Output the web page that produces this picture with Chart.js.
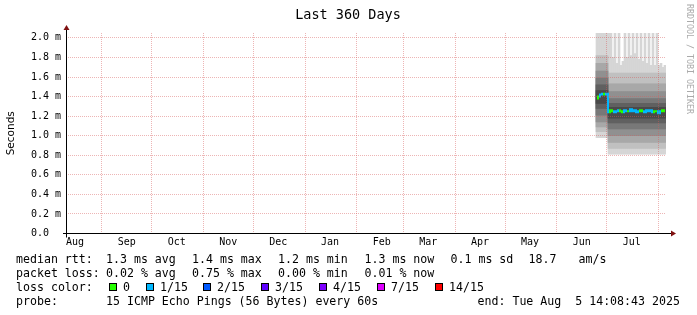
<!DOCTYPE html>
<html>
<head>
<meta charset="utf-8">
<title>Last 360 Days</title>
<script src="https://cdn.jsdelivr.net/npm/chart.js"></script>
<style>
  body { margin: 0; background: #fff; }
  #wrap { width: 697px; height: 315px; }
</style>
</head>
<body>
<div id="wrap"><canvas id="smoke" width="697" height="315"></canvas></div>
<script>
// x axis is "days since graph start" (end time minus 360 days)
const endTime = Date.UTC(2025, 7, 5, 14, 8, 43);
const startTime = endTime - 360 * 86400000;

const monthNames = ['Aug', 'Sep', 'Oct', 'Nov', 'Dec', 'Jan', 'Feb', 'Mar', 'Apr', 'May', 'Jun', 'Jul'];
const monthLabelDates = ['2024-08-16', '2024-09-16', '2024-10-16', '2024-11-16', '2024-12-16', '2025-01-16',
                         '2025-02-16', '2025-03-16', '2025-04-16', '2025-05-16', '2025-06-16', '2025-07-16'];
const monthLineDates = ['2024-09-01', '2024-10-01', '2024-11-01', '2024-12-01', '2025-01-01', '2025-02-01',
                        '2025-03-01', '2025-04-01', '2025-05-01', '2025-06-01', '2025-07-01', '2025-08-01'];

const yTicks = [0, 0.1, 0.2, 0.3, 0.4, 0.5, 0.6, 0.7, 0.8, 0.9, 1.0,
                1.1, 1.2, 1.3, 1.4, 1.5, 1.6, 1.7, 1.8, 1.9, 2.0];

// smoke buckets, 1.2 days each, starting day 318 (late June)
const smokeStartDay = 318;
const bucketDays = 1.2;
const firstP2Bucket = 6;   // level change just after Jul 1

// median rtt in ms per bucket
const median = [1.38, 1.40, 1.42, 1.43, 1.42, 1.43,
  1.24, 1.26, 1.25, 1.24, 1.25, 1.26, 1.25, 1.24, 1.26, 1.25, 1.25, 1.27, 1.25, 1.26, 1.24,
  1.25, 1.26, 1.25, 1.24, 1.26, 1.25, 1.26, 1.24, 1.25, 1.25, 1.23, 1.25, 1.26, 1.25];
// lost pings (of 15) per bucket
const loss = [0, 0, 1, 1, 0, 1,
  1, 0, 0, 1, 1, 1, 0, 0, 1, 1, 0, 1, 1, 1, 1, 1, 0, 0, 1, 1, 1, 1, 1, 0, 0, 1, 1, 0, 0];
// slowest ping per bucket (top of the lightest smoke)
const maxPing = [2.10, 2.10, 2.10, 2.10, 2.10, 2.10,
  2.10, 2.10, 1.80, 2.10, 1.74, 2.10, 1.72, 1.76, 2.10, 1.80, 2.10, 1.82, 2.10, 1.84, 2.10,
  1.78, 2.10, 1.76, 2.10, 1.74, 2.10, 1.72, 2.10, 1.72, 2.05, 1.72, 1.74, 1.70, 1.72];

// smoke band limits, outer band first (ms)
const bandLowP1  = [0.98, 1.04, 1.09, 1.14, 1.21, 1.28, 1.33];
const bandHighP1 = [null, 1.82, 1.74, 1.66, 1.59, 1.52, 1.46];
const bandLowP2  = [0.81, 0.87, 0.93, 1.00, 1.07, 1.13, 1.18];
const bandHighP2 = [null, 1.64, 1.53, 1.45, 1.38, 1.33, 1.29];

const lossSteps  = [0, 1, 2, 3, 4, 7, 14];
const lossLabels = ['0', '1/15', '2/15', '3/15', '4/15', '7/15', '14/15'];
const lossColors = ['#26ff00', '#00b8ff', '#0059ff', '#5e00ff', '#7e00ff', '#dd00ff', '#ff0000'];

const rttStats  = ['1.3 ms avg', '1.4 ms max', '1.2 ms min', '1.3 ms now', '0.1 ms sd'];
const lossStats = ['0.02 % avg', '0.75 % max', '0.00 % min', '0.01 % now'];
const amStats   = ['18.7', 'am/s'];
const probeText = '15 ICMP Echo Pings (56 Bytes) every 60s';
const endText   = 'end: Tue Aug  5 14:08:43 2025';

const smokeGrays = ['#d6d6d6', '#c0c0c0', '#a8a8a8', '#909090', '#787878', '#606060', '#4a4a4a'];
const MAJOR_GRID = 'rgba(215,90,90,0.45)';
const MINOR_GRID = 'rgba(150,150,150,0.45)';
const MONO = '"DejaVu Sans Mono", monospace';

function dayOf(s) { return (Date.parse(s) - startTime) / 86400000; }
function bucketMid(i) { return smokeStartDay + bucketDays * (i + 0.5); }
function colorForLoss(n) {
    var c = lossColors[0];
    lossSteps.forEach((s, i) => { if (n >= s) c = lossColors[i]; });
    return c;
}

const monthLabelDays = monthLabelDates.map(dayOf);
const monthLineDays = monthLineDates.map(dayOf);
const xTicks = monthLabelDays.concat(monthLineDays).sort((a, b) => a - b);

function bandData(b) {
    return median.map((m, i) => {
        const p2 = i >= firstP2Bucket;
        const lo = p2 ? bandLowP2[b] : bandLowP1[b];
        const hi = b === 0 ? maxPing[i] : (p2 ? bandHighP2[b] : bandHighP1[b]);
        return { x: bucketMid(i), y: [lo, hi] };
    });
}

var datasets = [{
    type: 'line',
    data: median.map((v, i) => ({ x: bucketMid(i), y: v })),
    borderColor: lossColors[0],
    borderWidth: 2,
    pointRadius: 0,
    stepped: 'middle',
    segment: { borderColor: c => colorForLoss(loss[c.p1DataIndex]) },
    order: 0,
    clip: 0
}];
for (let b = 0; b < smokeGrays.length; b++) {
    datasets.push({
        type: 'bar',
        data: bandData(b),
        backgroundColor: smokeGrays[b],
        borderWidth: 0,
        barPercentage: 1,
        categoryPercentage: 1,
        grouped: false,
        order: smokeGrays.length - b,
        clip: 0
    });
}

function isMajorY(v) { return Math.round(v * 10) % 2 === 0; }

// title, legend, watermark and the axis arrows
const decorations = {
    id: 'decorations',
    afterDraw(chart) {
        const ctx = chart.ctx;
        const a = chart.chartArea;
        ctx.save();
        ctx.fillStyle = '#000';
        ctx.textBaseline = 'alphabetic';

        ctx.font = '13.5px ' + MONO;
        ctx.textAlign = 'center';
        ctx.fillText('Last 360 Days', 348, 18.5);

        // axes
        ctx.strokeStyle = '#000';
        ctx.lineWidth = 1;
        ctx.beginPath();
        ctx.moveTo(63, a.bottom);
        ctx.lineTo(a.right + 5, a.bottom);
        ctx.moveTo(a.left + 0.5, a.bottom + 4);
        ctx.lineTo(a.left + 0.5, a.top - 3);
        ctx.stroke();
        ctx.fillStyle = '#7f1010';
        ctx.beginPath();
        ctx.moveTo(a.right + 5, a.bottom - 3);
        ctx.lineTo(a.right + 10, a.bottom);
        ctx.lineTo(a.right + 5, a.bottom + 3);
        ctx.closePath();
        ctx.fill();
        ctx.beginPath();
        ctx.moveTo(a.left + 0.5 - 3, a.top - 3);
        ctx.lineTo(a.left + 0.5, a.top - 8);
        ctx.lineTo(a.left + 0.5 + 3, a.top - 3);
        ctx.closePath();
        ctx.fill();

        // legend
        ctx.fillStyle = '#000';
        ctx.textAlign = 'left';
        ctx.font = '11.6px ' + MONO;
        const cols = [106, 192, 278, 364.5, 450.5];
        ctx.fillText('median rtt:', 16, 263);
        rttStats.forEach((t, i) => ctx.fillText(t, cols[i], 263));
        ctx.fillText(amStats[0], 528.5, 263);
        ctx.fillText(amStats[1], 578.5, 263);

        ctx.fillText('packet loss:', 16, 277);
        lossStats.forEach((t, i) => ctx.fillText(t, cols[i], 277));

        ctx.fillText('loss color:', 16, 291);
        const boxX = [109, 146, 203, 261, 319, 377, 435];
        lossLabels.forEach((t, i) => {
            ctx.fillStyle = '#000';
            ctx.fillRect(boxX[i], 283, 8, 8);
            ctx.fillStyle = lossColors[i];
            ctx.fillRect(boxX[i] + 1, 284, 6, 6);
            ctx.fillStyle = '#000';
            ctx.fillText(t, boxX[i] + 14, 291);
        });

        ctx.fillText('probe:', 16, 305);
        ctx.fillText(probeText, 106, 305);
        ctx.fillText(endText, 477.5, 305);

        // watermark
        ctx.fillStyle = '#aaaaaa';
        ctx.font = '8.3px ' + MONO;
        ctx.translate(689, 4);
        ctx.rotate(Math.PI / 2);
        ctx.textBaseline = 'middle';
        ctx.fillText('RRDTOOL / TOBI OETIKER', 0, 0);
        ctx.restore();
    }
};

new Chart(document.getElementById('smoke'), {
    type: 'bar',
    data: { datasets: datasets },
    plugins: [decorations],
    options: {
        responsive: false,
        animation: false,
        events: [],
        layout: { padding: { top: 33, right: 31, left: 0, bottom: 0 } },
        plugins: {
            legend: { display: false },
            title: { display: false },
            tooltip: { enabled: false }
        },
        scales: {
            x: {
                type: 'linear',
                min: 0,
                max: 360,
                offset: false,
                afterBuildTicks: s => { s.ticks = xTicks.map(v => ({ value: v })); },
                afterFit: s => { s.height = 81.5; },
                grid: {
                    offset: false,
                    drawTicks: false,
                    z: 1,
                    color: MAJOR_GRID,
                    lineWidth: c => (c.tick && monthLineDays.indexOf(c.tick.value) >= 0) ? 1 : 0
                },
                border: { display: false, dash: [1, 1] },
                ticks: {
                    autoSkip: false,
                    maxRotation: 0,
                    minRotation: 0,
                    padding: 3,
                    color: '#000',
                    font: { family: MONO, size: 10 },
                    callback: v => {
                        const i = monthLabelDays.indexOf(v);
                        return i >= 0 ? monthNames[i] : '';
                    }
                }
            },
            y: {
                type: 'linear',
                min: 0,
                max: 2.05,
                afterBuildTicks: s => { s.ticks = yTicks.map(v => ({ value: v })); },
                afterFit: s => { s.width = 66; },
                title: {
                    display: true,
                    text: 'Seconds',
                    color: '#000',
                    font: { family: '"DejaVu Sans", sans-serif', size: 10.5 },
                    padding: { top: 5, bottom: 0 }
                },
                grid: {
                    drawTicks: false,
                    z: 1,
                    color: c => (c.tick && isMajorY(c.tick.value)) ? MAJOR_GRID : MINOR_GRID
                },
                border: { display: false, dash: [1, 1] },
                ticks: {
                    padding: 5,
                    color: '#000',
                    font: { family: MONO, size: 10 },
                    callback: v => {
                        if (!isMajorY(v)) return '';
                        return v === 0 ? '0.0  ' : v.toFixed(1) + ' m';
                    }
                }
            }
        }
    }
});
</script>
</body>
</html>
